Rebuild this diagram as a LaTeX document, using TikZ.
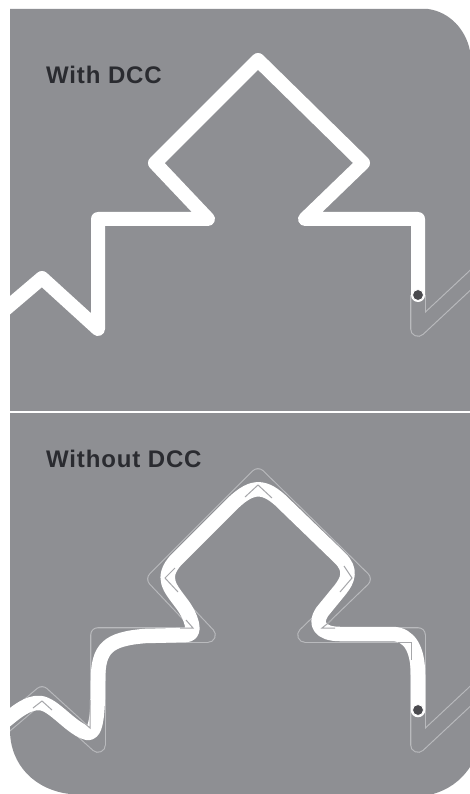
\documentclass[tikz,border=0pt]{standalone}
\usepackage{fontspec}
\setmainfont{Liberation Sans}
\definecolor{panel}{HTML}{8E8F93}
\definecolor{ghost}{HTML}{B9BABD}
\definecolor{inner}{HTML}{A6A7AA}
\definecolor{ink}{HTML}{2A2B30}
\definecolor{marker}{HTML}{4A4A4E}
\tikzset{
  track/.style={line width=14pt,white,line join=round,line cap=round},
  softtrack/.style={line width=14.5pt,white,line join=round,line cap=round},
  ghostline/.style={double=panel,draw=ghost,double distance=13.5pt,line width=1.1pt,line join=round},
  innerline/.style={draw=inner,line width=1pt},
  dotmark/.style={circle,fill=marker,draw=white,line width=.8pt,minimum size=11pt,inner sep=0pt},
  heading/.style={anchor=base west,inner sep=0pt,text=ink,font=\fontsize{24}{24}\bfseries\addfontfeature{LetterSpace=3.5}}
}
\begin{document}
\begin{tikzpicture}[x=1pt,y=-1pt]
\useasboundingbox (0,0) rectangle (470,794);
\fill[white] (0,0) rectangle (470,794);
\begin{scope}
\clip (10,9) -- (428,9) .. controls (450,12) and (466,30) .. (470,51) -- (470,767)
  .. controls (460,782) and (447,790) .. (433,794) -- (70,794)
  .. controls (35,790) and (10,765) .. (10,730) -- cycle;
\fill[panel] (0,0) rectangle (470,794);
% top panel
\draw[ghostline] (418,295) -- (418,329) -- (478,273);
\draw[track] (-5,318) -- (42,278) -- (98,329) -- (98,219) -- (208,219) -- (155,163)
  -- (258,60) -- (363,163) -- (305,219) -- (418,219) -- (418,295);
% bottom panel
\draw[ghostline] (-5,734) -- (42,694) -- (98,745) -- (98,635) -- (208,635) -- (155,579)
  -- (258,476) -- (363,579) -- (305,635) -- (418,635) -- (418,745) -- (478,689);
\draw[softtrack] (4,722) .. controls (16,712) and (28,702) .. (40,703)
  .. controls (54,704) and (72,730) .. (88,733)
  .. controls (97,734) and (98,710) .. (98,680)
  .. controls (98,648) and (108,639) .. (145,636)
  -- (186,635) .. controls (198,635) and (191,616) .. (182,604)
  .. controls (170,588) and (160,578) .. (176,560)
  -- (230,506) .. controls (250,486) and (262,484) .. (280,500)
  -- (340,558) .. controls (352,570) and (348,580) .. (340,590)
  -- (322,612) .. controls (314,624) and (320,634) .. (340,634)
  -- (392,634) .. controls (410,634) and (418,650) .. (418,675)
  -- (418,710);
\draw[innerline] (33,708) -- (42,701) -- (52,710);
\draw[innerline] (90,700) -- (90,728) -- (82,721);
\draw[innerline] (245,497) -- (258,485) -- (272,498);
\draw[innerline] (175,568) -- (165,578) -- (178,592);
\draw[innerline] (344,566) -- (352,578) -- (340,592);
\draw[innerline] (332,620) -- (322,628) -- (335,628);
\draw[innerline] (180,628) -- (193,628) -- (186,620);
\draw[innerline] (398,642) -- (411,642) -- (411,660);
\node[dotmark] (dotA) at (418,295) {};
\node[dotmark] (dotB) at (418,710) {};
\end{scope}
\draw[white,line width=1.5pt] (10,412) -- (470,412);
\node[heading] (labelA) at (46,84) {With DCC};
\node[heading] (labelB) at (46,467) {Without DCC};
\end{tikzpicture}
\end{document}
